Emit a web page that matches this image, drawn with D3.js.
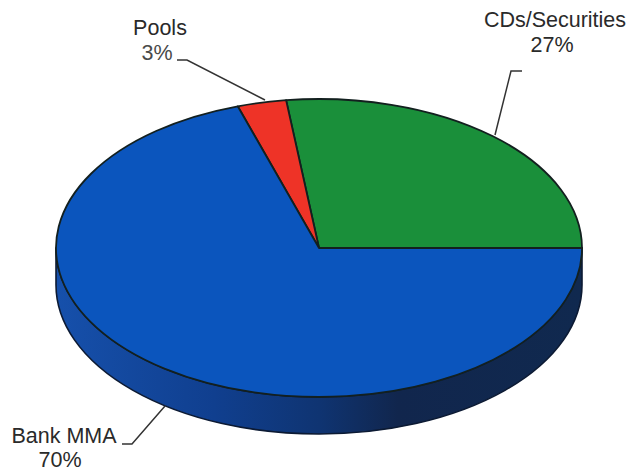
<!DOCTYPE html>
<html>
<head>
<meta charset="utf-8">
<style>
  html, body { margin: 0; padding: 0; background: #fff; }
  svg { display: block; }
  text { font-family: "Liberation Sans", Arial, sans-serif; font-size: 21.5px; fill: #2a2a2a; text-anchor: middle; }
</style>
</head>
<body>
<svg id="chart" width="634" height="474"></svg>
<script src="https://cdn.jsdelivr.net/npm/d3@7/dist/d3.min.js"></script>
<script>
// Portfolio shares, laid out counter-clockwise from the 3 o'clock edge of the pie
const categories = ["CDs/Securities", "Pools", "Bank MMA"];
const shares = [27, 3, 70];
const shareLabels = ["27%", "3%", "70%"];
const sliceColors = ["#1a8f3a", "#ee3327", "#0b55bd"];

const cx = 319, cy = 248, rx = 263, ry = 149, depth = 37;
const svg = d3.select("#chart");

// Pie layout runs counter-clockwise from the east edge
const pie = d3.pie().sort(null).value(d => d)
  .startAngle(Math.PI / 2).endAngle(Math.PI / 2 - 2 * Math.PI);
const slices = pie(shares);

// Rim shading across the width of the pie
const defs = svg.append("defs");
const rimGrad = defs.append("linearGradient").attr("id", "rim")
  .attr("gradientUnits", "userSpaceOnUse")
  .attr("x1", cx - rx).attr("x2", cx + rx).attr("y1", 0).attr("y2", 0);
[[0, "#1650ab"], [0.3, "#103f8f"], [0.5, "#0f3472"], [0.65, "#11264d"], [1, "#10294f"]]
  .forEach(([o, c]) => rimGrad.append("stop").attr("offset", o).attr("stop-color", c));

// Rim: the front half of the ellipse swept down by the disc thickness
svg.append("path")
  .attr("d", `M${cx - rx},${cy} A${rx},${ry} 0 0 0 ${cx + rx},${cy} L${cx + rx},${cy + depth} A${rx},${ry} 0 0 1 ${cx - rx},${cy + depth} Z`)
  .attr("fill", "url(#rim)")
  .attr("stroke", "#0c1a33").attr("stroke-width", 1.6).attr("stroke-linejoin", "round");

// Top face of each slice, as a flat circular arc squashed into an ellipse
const arc = d3.arc().innerRadius(0).outerRadius(1);
svg.append("g")
  .attr("transform", `translate(${cx},${cy}) scale(${rx},${ry})`)
  .selectAll("path")
  .data(slices)
  .join("path")
  .attr("d", arc)
  .attr("fill", (d, i) => sliceColors[i])
  .attr("stroke", "#13201f")
  .attr("stroke-width", 1.8)
  .attr("stroke-linejoin", "round")
  .attr("vector-effect", "non-scaling-stroke");

// Callouts: two-line label plus a leader that runs to the pie's edge
const labelLayout = [
  { x: 555, y: 27, vx: 552, vy: 52, fill: null, path: [[522, 71], [511, 71], [495, 135]] },
  { x: 160, y: 35, vx: 157, vy: 60, fill: "#4a4a4a", path: [[177, 60], [187, 60], [265, 100]] },
  { x: 64, y: 443, vx: 60, vy: 467, fill: null, path: [[122, 444], [132, 444], [165, 406]] }
];
const leader = d3.line();
labelLayout.forEach((l, i) => {
  svg.append("path").attr("d", leader(l.path))
    .attr("fill", "none").attr("stroke", "#333").attr("stroke-width", 1.5);
  svg.append("text").attr("x", l.x).attr("y", l.y).text(categories[i]);
  svg.append("text").attr("x", l.vx).attr("y", l.vy).text(shareLabels[i])
    .style("fill", l.fill);
});
</script>
</body>
</html>
